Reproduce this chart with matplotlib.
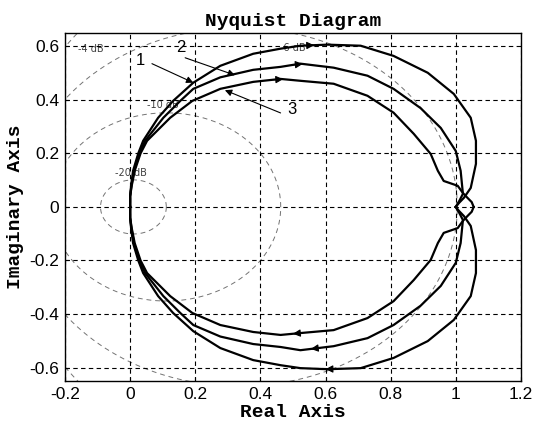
import numpy as np
import matplotlib
matplotlib.use("Agg")
import matplotlib.pyplot as plt

plt.rcParams["axes.unicode_minus"] = False

# upper branch of each curve (lower branch is the mirror image)
c1_re = [0.0, 0.0, 0.003, 0.009, 0.025, 0.040, 0.086, 0.132, 0.194, 0.277, 0.378, 0.462,
         0.523, 0.606, 0.708, 0.809, 0.914, 0.994, 1.046, 1.062, 1.062, 1.046, 1.025, 1.010, 1.0]
c1_im = [0.0, 0.040, 0.080, 0.135, 0.200, 0.247, 0.333, 0.396, 0.464, 0.527, 0.572, 0.591,
         0.602, 0.606, 0.602, 0.564, 0.501, 0.422, 0.333, 0.247, 0.161, 0.071, 0.034, 0.015, 0.0]

c2_re = [0.0, 0.0, 0.004, 0.012, 0.028, 0.046, 0.102, 0.154, 0.194, 0.277, 0.378, 0.462,
         0.523, 0.625, 0.729, 0.809, 0.892, 0.954, 1.000, 1.015, 1.022, 1.012, 1.0]
c2_im = [0.0, 0.040, 0.080, 0.135, 0.200, 0.247, 0.333, 0.396, 0.441, 0.484, 0.512, 0.523,
         0.535, 0.520, 0.490, 0.441, 0.369, 0.295, 0.209, 0.135, 0.049, 0.025, 0.0]

c3_re = [0.0, 0.0, 0.005, 0.014, 0.032, 0.052, 0.123, 0.191, 0.277, 0.378, 0.462, 0.523,
         0.625, 0.729, 0.809, 0.871, 0.923, 0.945, 0.963, 1.006, 1.022, 1.036, 1.049, 1.055]
c3_im = [0.0, 0.040, 0.080, 0.135, 0.200, 0.247, 0.333, 0.396, 0.441, 0.467, 0.478, 0.471,
         0.460, 0.415, 0.352, 0.273, 0.198, 0.135, 0.097, 0.079, 0.052, 0.034, 0.018, 0.0]

curves = [(c1_re, c1_im), (c2_re, c2_im), (c3_re, c3_im)]
arrow_x_upper = [0.565, 0.530, 0.470]
arrow_x_lower = [0.600, 0.555, 0.500]

m_db = [-20, -10, -6, -4]
m_labels = ["-20 dB", "-10 dB", "-6 dB", "-4 dB"]
m_label_pos = [(-0.046, 0.127), (0.052, 0.381), (0.46, 0.594), (-0.16, 0.59)]

xticks = [-0.2, 0, 0.2, 0.4, 0.6, 0.8, 1, 1.2]
xtick_labels = ["-0.2", "0", "0.2", "0.4", "0.6", "0.8", "1", "1.2"]
yticks = [-0.6, -0.4, -0.2, 0, 0.2, 0.4, 0.6]
ytick_labels = ["-0.6", "-0.4", "-0.2", "0", "0.2", "0.4", "0.6"]

# curve labels: text position, arrow tail, arrow tip on the curve
labels = ["1", "2", "3"]
label_text_pos = [(0.031, 0.548), (0.156, 0.596), (0.497, 0.363)]
label_tail = [(0.067, 0.535), (0.169, 0.557), (0.462, 0.351)]
label_tip = [(0.194, 0.464), (0.322, 0.492), (0.291, 0.436)]

fig = plt.figure(figsize=(5.44, 4.23), dpi=100)
ax = fig.add_axes([0.1195, 0.0993, 0.838, 0.823])

# M circles
th = np.linspace(0, 2 * np.pi, 721)
for db in m_db:
    m2 = 10 ** (db / 10)
    c = -m2 / (m2 - 1)
    r = np.sqrt(m2) / abs(m2 - 1)
    ax.plot(c + r * np.cos(th), r * np.sin(th), color="0.45", lw=0.7,
            linestyle=(0, (5, 4)), zorder=1)
for txt, (x, y) in zip(m_labels, m_label_pos):
    ax.text(x, y, txt, fontsize=7, color="0.25", va="center", ha="left",
            family="DejaVu Sans", zorder=2)

# curves
for (re, im), xu, xl in zip(curves, arrow_x_upper, arrow_x_lower):
    re = np.array(re)
    im = np.array(im)
    ax.plot(re, im, color="black", lw=1.6, zorder=3)
    ax.plot(re, -im, color="black", lw=1.6, zorder=3)
    k = int(np.argmax(re)) + 1
    for x0, sgn, d in [(xu, 1, 1), (xl, -1, -1)]:
        y_tip = sgn * np.interp(x0, re[:k], im[:k])
        y_tail = sgn * np.interp(x0 - d * 0.03, re[:k], im[:k])
        ax.annotate("", xy=(x0, y_tip), xytext=(x0 - d * 0.03, y_tail),
                    arrowprops=dict(arrowstyle="-|>", color="black", lw=0.8,
                                    mutation_scale=11, shrinkA=0, shrinkB=0),
                    zorder=4)

for txt, tp, tail, tip in zip(labels, label_text_pos, label_tail, label_tip):
    ax.text(tp[0], tp[1], txt, fontsize=12, ha="center", va="center",
            family="Liberation Sans")
    ax.annotate("", xy=tip, xytext=tail,
                arrowprops=dict(arrowstyle="-|>", color="black", lw=0.8,
                                mutation_scale=10, shrinkA=0, shrinkB=0))

ax.set_xlim(-0.2, 1.2)
ax.set_ylim(-0.65, 0.65)
ax.set_xticks(xticks)
ax.set_xticklabels(xtick_labels)
ax.set_yticks(yticks)
ax.set_yticklabels(ytick_labels)
ax.tick_params(direction="in", length=3, labelsize=12.5, pad=4)
for lab in ax.get_xticklabels() + ax.get_yticklabels():
    lab.set_family("Liberation Sans")
ax.grid(True, color="black", lw=0.8, linestyle=(0, (4, 3)))
ax.set_axisbelow(False)
for s in ax.spines.values():
    s.set_linewidth(1.0)

mono = dict(family="Liberation Mono", weight="bold", fontsize=14)
ax.set_title("Nyquist Diagram", pad=5, **mono)
ax.set_xlabel("Real Axis", labelpad=2, **mono)
ax.set_ylabel("Imaginary Axis", labelpad=4, **mono)

fig.savefig("out.png", dpi=100)
